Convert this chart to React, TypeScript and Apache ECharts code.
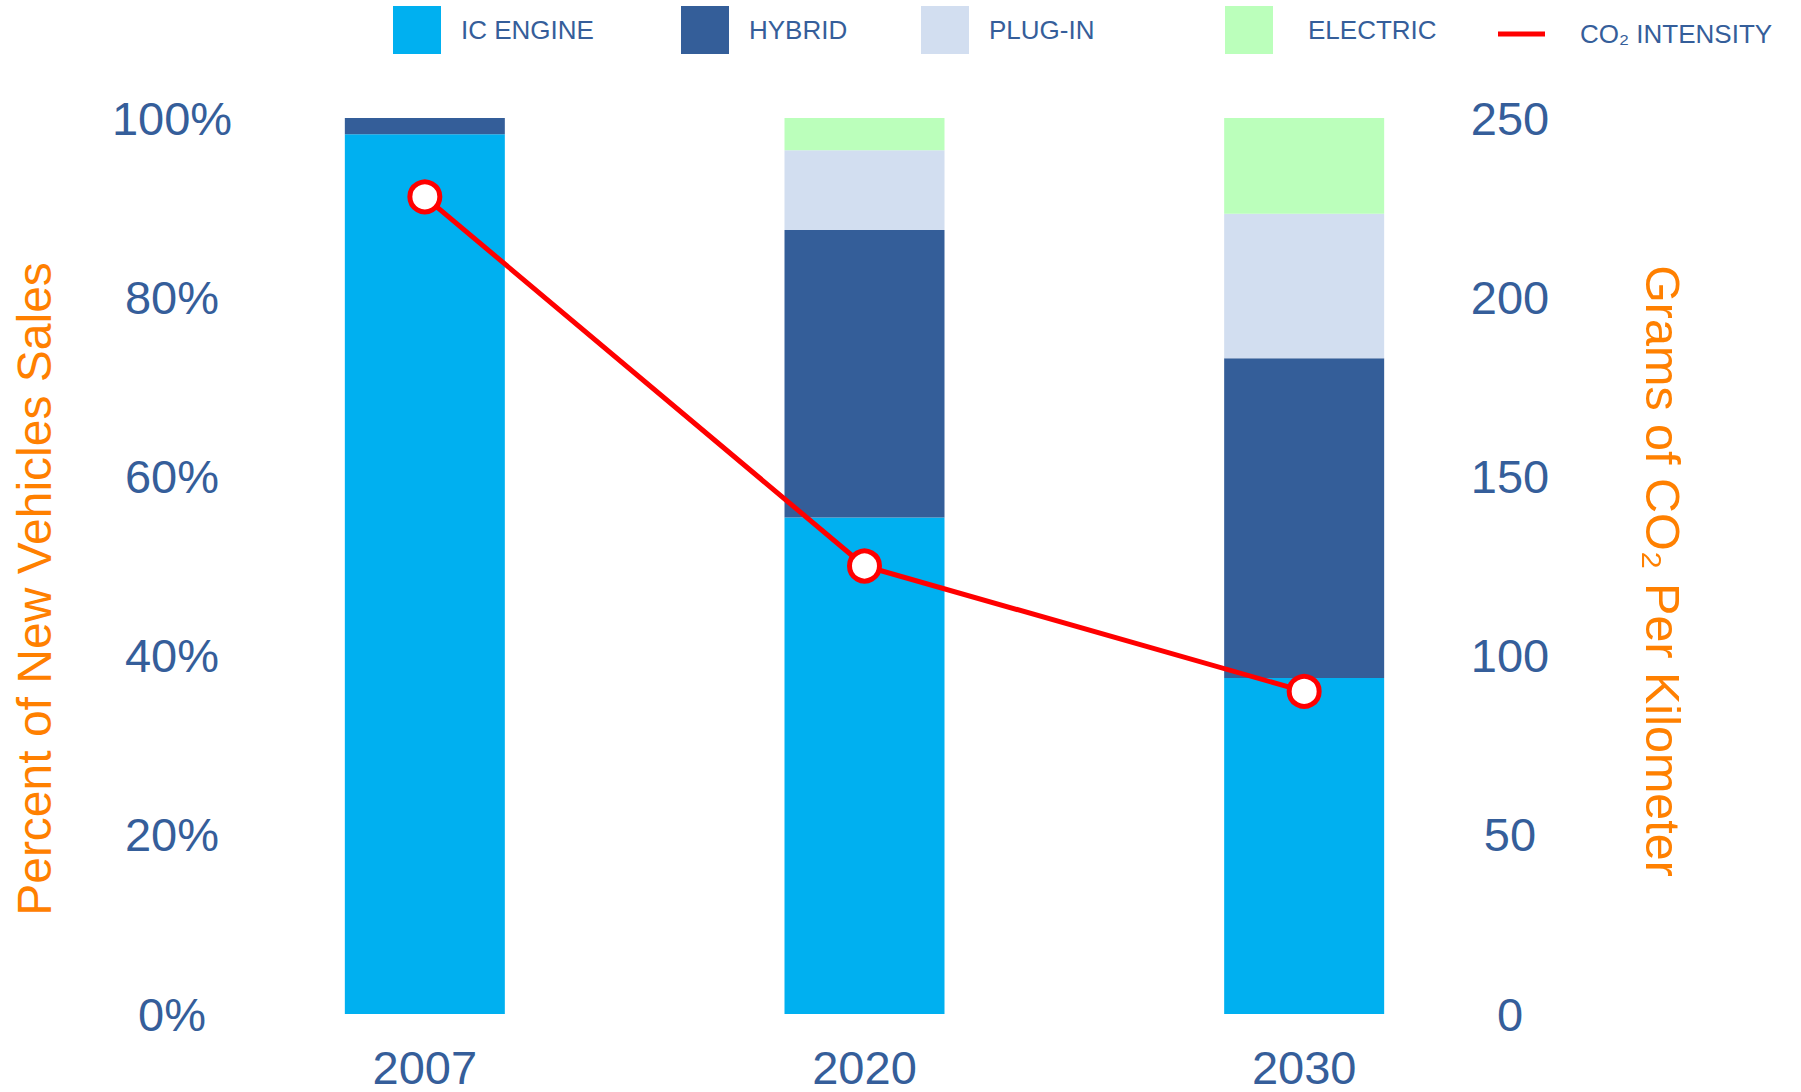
import React, { useEffect, useRef } from "react";
import * as echarts from "echarts";

const years = ["2007", "2020", "2030"];
const icEngine = [98.2, 55.4, 37.5];
const hybrid = [1.8, 32.1, 35.7];
const plugIn = [0, 8.9, 16.1];
const electric = [0, 3.6, 10.7];
const co2Intensity = [228, 125, 90];

const percentMax = 100;
const percentStep = 20;
const gramsMax = 250;
const gramsStep = 50;

const seriesNames = ["IC ENGINE", "HYBRID", "PLUG-IN", "ELECTRIC", "CO₂ INTENSITY"];
const leftTitle = "Percent of New Vehicles Sales";
const rightTitle = "Grams of CO₂ Per Kilometer";

const FONT = "'Liberation Sans', Arial, sans-serif";
const BLUE_TEXT = "#355E9A";
const ORANGE = "#FF8000";
const COLORS = ["#00B0F0", "#345E99", "#D2DEF0", "#BBFFBB"];

export default function App() {
  const ref = useRef<HTMLDivElement>(null);
  useEffect(() => {
    if (!ref.current) return;
    const chart = echarts.init(ref.current, undefined, { renderer: "svg" });
    const barData = [icEngine, hybrid, plugIn, electric];
    const legendLefts = [388, 676, 916, 1220];
    const legendPads = [15, 15, 15, 30];
    const legends: any[] = barData.map((_, i) => ({
      data: [seriesNames[i]],
      left: legendLefts[i],
      top: 1,
      itemWidth: 48,
      itemHeight: 48,
      icon: "rect",
      textStyle: {
        fontSize: 26,
        color: BLUE_TEXT,
        fontFamily: FONT,
        padding: [4, 0, 0, legendPads[i]],
      },
      selectedMode: false,
    }));
    legends.push({
      data: [seriesNames[4]],
      left: 1493,
      top: 16,
      itemWidth: 47,
      itemHeight: 5,
      icon: "rect",
      itemStyle: { color: "#FF0000", borderWidth: 0 },
      textStyle: {
        fontSize: 26,
        color: BLUE_TEXT,
        fontFamily: FONT,
        padding: [0, 0, 0, 30],
      },
      selectedMode: false,
    });

    const option: any = {
      animation: false,
      backgroundColor: "#ffffff",
      legend: legends,
      grid: { left: 205, right: 277, top: 118, bottom: 78, containLabel: false },
      xAxis: {
        type: "category",
        data: years,
        axisLine: { show: false },
        axisTick: { show: false },
        axisLabel: {
          fontSize: 47,
          lineHeight: 46,
          color: BLUE_TEXT,
          fontFamily: FONT,
          margin: 30,
        },
      },
      yAxis: [
        {
          type: "value",
          position: "left",
          min: 0,
          max: percentMax,
          interval: percentStep,
          splitLine: { show: false },
          axisLine: { show: false },
          axisTick: { show: false },
          axisLabel: {
            formatter: "{value}%",
            fontSize: 47,
            color: BLUE_TEXT,
            fontFamily: FONT,
            align: "center",
            margin: 33,
          },
        },
        {
          type: "value",
          position: "right",
          min: 0,
          max: gramsMax,
          interval: gramsStep,
          splitLine: { show: false },
          axisLine: { show: false },
          axisTick: { show: false },
          axisLabel: {
            fontSize: 47,
            color: BLUE_TEXT,
            fontFamily: FONT,
            align: "center",
            margin: -14,
          },
        },
      ],
      graphic: [
        {
          type: "text",
          x: 34,
          y: 589,
          rotation: Math.PI / 2,
          style: {
            text: leftTitle,
            fontSize: 48,
            fontFamily: FONT,
            fill: ORANGE,
            align: "center",
            verticalAlign: "middle",
          },
        },
        {
          type: "text",
          x: 1663,
          y: 571,
          rotation: -Math.PI / 2,
          style: {
            text: rightTitle,
            fontSize: 48.5,
            fontFamily: FONT,
            fill: ORANGE,
            align: "center",
            verticalAlign: "middle",
          },
        },
      ],
      series: [
        ...barData.map((d, i) => ({
          name: seriesNames[i],
          type: "bar",
          stack: "share",
          barWidth: 160,
          yAxisIndex: 0,
          itemStyle: { color: COLORS[i] },
          data: d,
        })),
        {
          name: seriesNames[4],
          type: "line",
          yAxisIndex: 1,
          data: co2Intensity,
          symbol: "circle",
          symbolSize: 30,
          z: 10,
          lineStyle: { color: "#FF0000", width: 5 },
          itemStyle: { color: "#FFFFFF", borderColor: "#FF0000", borderWidth: 5 },
        },
      ],
    };
    chart.setOption(option);
    return () => chart.dispose();
  }, []);
  return (
    <div
      ref={ref}
      style={{ position: "absolute", left: 0, top: 0, width: 1801, height: 1092 }}
    />
  );
}
